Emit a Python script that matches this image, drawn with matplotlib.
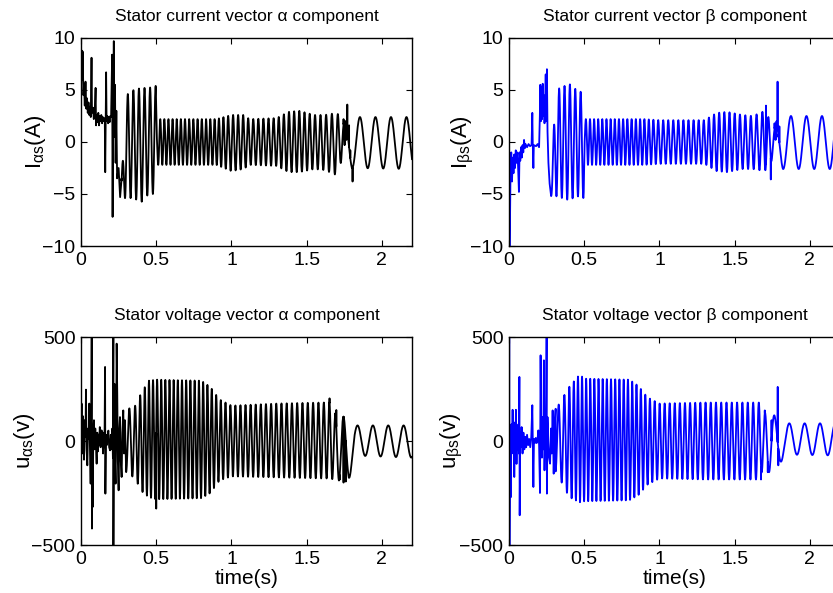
import numpy as np
import matplotlib
matplotlib.use('Agg')
import matplotlib.pyplot as plt

plt.rcParams['font.family'] = ['Liberation Sans', 'DejaVu Sans']
plt.rcParams['mathtext.fontset'] = 'custom'
plt.rcParams['mathtext.rm'] = 'Liberation Sans'
plt.rcParams['mathtext.it'] = 'Liberation Sans'
plt.rcParams['mathtext.bf'] = 'Liberation Sans:bold'
plt.rcParams['axes.unicode_minus'] = True

T_END = 2.2
DT = 0.0004

# ---------------- I_alpha (stator current alpha) ----------------
ia_tr_t = [0.0, 0.004, 0.008, 0.011, 0.016, 0.02, 0.025, 0.03, 0.035, 0.04, 0.045, 0.05, 0.055,
           0.06, 0.065, 0.07, 0.073, 0.08, 0.085, 0.092, 0.097, 0.1, 0.105, 0.11, 0.115, 0.12,
           0.125, 0.13, 0.135, 0.14, 0.145, 0.15, 0.158, 0.161, 0.164, 0.167, 0.17, 0.175, 0.18,
           0.185, 0.19, 0.195, 0.2, 0.207, 0.21, 0.213, 0.218, 0.222, 0.226, 0.23, 0.235, 0.24,
           0.25, 0.26, 0.27]
ia_tr_v = [4.5, 8.8, 6.0, 8.7, 4.5, 5.6, 3.5, 5.8, 3.2, 4.2, 2.8, 3.8, 2.6,
           3.4, 2.4, 8.1, 2.8, 3.3, 2.2, 3.0, 5.2, 1.6, 2.6, 1.9, 2.8, 1.6,
           2.5, 2.0, 2.6, 1.8, 2.4, 2.0, 2.3, -2.9, 2.2, 6.7, 2.0, 2.5, 1.8,
           2.4, 1.9, 2.5, 2.4, 8.4, -7.2, 1.5, 9.7, 0.5, 5.5, -2.0, 3.0, -3.5,
           -2.5, -5.3, -3.5]
ia_osc_start = 0.27
ia_env_t = [0.27, 0.30, 0.35, 0.40, 0.45, 0.497, 0.503, 0.90, 0.95, 1.0, 1.08, 1.12, 1.30, 1.38,
            1.45, 1.55, 1.62, 1.70, 1.75, 1.80, 2.2]
ia_env_hi = [-3.5, 4.5, 5.0, 5.2, 5.2, 5.4, 2.2, 2.2, 2.4, 2.6, 2.6, 2.2, 2.3, 2.9,
             3.0, 2.6, 2.6, 2.8, 2.0, 2.4, 2.4]
ia_env_lo = [-5.4, -5.4, -5.4, -5.8, -5.0, -5.0, -2.2, -2.2, -2.5, -2.8, -2.6, -2.2, -2.3, -2.9,
             -2.9, -2.6, -2.7, -3.2, -1.0, -2.5, -2.6]
ia_f_t = [0.27, 0.50, 0.52, 0.90, 1.0, 1.5, 1.70, 1.73, 1.76, 2.2]
ia_f_hz = [27, 27, 37, 35, 30, 29, 25, 25, 9.7, 9.7]
ia_peak = 1.854
ia_sp_t = [1.745, 1.752, 1.758, 1.764, 1.770, 1.776, 1.782, 1.790, 1.805]
ia_sp_v = [2.2, -0.3, 1.8, 0.2, 3.6, 0.3, 1.6, -0.8, -3.8]

# ---------------- I_beta (stator current beta) ----------------
ib_tr_t = [0.0, 0.002, 0.005, 0.01, 0.015, 0.02, 0.025, 0.03, 0.035, 0.04, 0.045, 0.05, 0.055,
           0.06, 0.066, 0.07, 0.075, 0.08, 0.085, 0.09, 0.095, 0.1, 0.105, 0.11, 0.12, 0.13,
           0.14, 0.15, 0.155, 0.158, 0.162, 0.165, 0.18, 0.19, 0.2, 0.205, 0.208, 0.212, 0.216,
           0.22, 0.224, 0.228, 0.232, 0.236, 0.24, 0.244, 0.248, 0.252, 0.256, 0.262, 0.27, 0.28]
ib_tr_v = [5.0, -10.0, -10.0, -3.0, -1.0, -3.8, -1.5, -3.0, -1.2, -2.5, -0.8, -2.0, -1.0,
           -2.2, -4.8, -1.0, -1.8, -0.5, -1.5, -0.3, -1.0, 0.2, -0.6, -0.2, -0.5, -0.2,
           -0.4, -0.3, 2.8, -0.3, -2.5, -0.3, -0.4, -0.2, -0.5, 2.5, 5.5, 2.0, 5.3,
           2.2, 5.6, 2.5, 4.5, 1.8, 3.5, 6.5, 2.0, 7.0, 1.0, -2.0, -4.0, -5.2]
ib_osc_start = 0.28
ib_env_t = [0.28, 0.31, 0.40, 0.45, 0.497, 0.503, 0.90, 1.0, 1.30, 1.38, 1.45, 1.55, 1.62,
            1.70, 1.76, 1.82, 2.2]
ib_env_hi = [-4.0, 5.0, 5.6, 5.0, 4.7, 2.2, 2.2, 2.1, 2.1, 2.8, 2.9, 2.6, 2.5, 3.0, 1.5, 2.5, 2.5]
ib_env_lo = [-5.2, -5.2, -5.6, -5.2, -5.4, -2.2, -2.2, -2.1, -2.1, -2.8, -2.9, -2.6, -2.6,
             -2.8, -1.5, -2.6, -2.6]
ib_f_t = [0.28, 0.50, 0.52, 0.90, 1.0, 1.5, 1.70, 1.74, 1.78, 2.2]
ib_f_hz = [28, 28, 37, 35, 30, 29, 25, 25, 9.7, 9.7]
ib_peak = 1.874
ib_sp_t = [1.708, 1.740, 1.765, 1.772, 1.778, 1.785, 1.790, 1.797]
ib_sp_v = [3.5, -3.6, 1.8, 0.2, 2.0, 5.8, 0.5, 1.5]

# ---------------- u_alpha (stator voltage alpha) ----------------
ua_tr_t = [0.0, 0.004, 0.008, 0.012, 0.016, 0.02, 0.025, 0.03, 0.033, 0.037, 0.042, 0.047, 0.051,
           0.055, 0.06, 0.064, 0.068, 0.071, 0.073, 0.076, 0.078, 0.082, 0.086, 0.09, 0.095, 0.1,
           0.104, 0.108, 0.112, 0.116, 0.12, 0.125, 0.13, 0.137, 0.142, 0.147, 0.152, 0.156, 0.16,
           0.162, 0.166, 0.171, 0.176, 0.182, 0.187, 0.193, 0.198, 0.203, 0.208, 0.212, 0.215,
           0.2155, 0.218, 0.222, 0.226, 0.23, 0.234, 0.237, 0.241, 0.245, 0.25, 0.255, 0.259,
           0.264, 0.27, 0.275, 0.281, 0.286, 0.292, 0.299]
ua_tr_v = [20, 180, -60, 120, 40, -90, 100, 20, 247, -40, -117, 60, 10,
           180, -60, -205, 80, 495, -421, 60, -317, 40, 100, -40, 60, -30,
           -109, 40, -50, 30, -20, 67, -30, 51, 0, -60, 40, -30, 356,
           -253, 30, -20, 20, 50, -30, -45, 30, -40, 60, -80, 500,
           -500, 100, 275, -100, -205, 80, 468, 227, -100, -237, 60, 115,
           -90, -173, 40, 147, -60, 100, -109]
ua_osc_start = 0.30
ua_env_t = [0.30, 0.36, 0.40, 0.45, 0.50, 0.80, 0.86, 0.92, 1.0, 1.30, 1.60, 1.665, 1.68, 1.78,
            1.82, 2.2]
ua_env_hi = [150, 170, 230, 290, 295, 290, 260, 200, 170, 180, 185, 185, 130, 110, 75, 75]
ua_env_lo = [-150, -180, -240, -270, -280, -275, -250, -190, -170, -175, -180, -180, -190, -190,
             -70, -80]
ua_f_t = [0.30, 0.40, 0.45, 0.85, 1.0, 1.6, 1.67, 1.72, 1.78, 2.2]
ua_f_hz = [22, 32, 37, 35, 30, 28, 26, 18, 9.8, 9.8]
ua_peak = 1.838
ua_sp_t = [0.50, 1.652, 1.690, 1.697, 1.720, 1.745, 1.760]
ua_sp_v = [-325, 205, 133, 149, -185, -200, -195]

# ---------------- u_beta (stator voltage beta) ----------------
ub_tr_t = [0.0, 0.0015, 0.003, 0.006, 0.009, 0.012, 0.016, 0.02, 0.024, 0.028, 0.032, 0.035,
           0.039, 0.043, 0.046, 0.05, 0.054, 0.058, 0.062, 0.066, 0.069, 0.071, 0.075, 0.079,
           0.084, 0.09, 0.096, 0.102, 0.108, 0.114, 0.12, 0.127, 0.134, 0.141, 0.148, 0.155,
           0.158, 0.162, 0.166, 0.172, 0.178, 0.184, 0.19, 0.195, 0.2, 0.206, 0.21, 0.214,
           0.219, 0.224, 0.228, 0.232, 0.236, 0.24, 0.245, 0.25, 0.252, 0.256, 0.261, 0.266,
           0.273, 0.279, 0.284, 0.29, 0.297, 0.303, 0.31]
ub_tr_v = [0, 500, -500, -100, 60, -270, 80, -40, 150, -60, 90, -173,
           40, -80, 150, -110, 60, -40, 80, -60, 308, -357, 40, -30,
           67, -60, 40, -40, 20, -30, 30, -20, 10, -30, 20, 172,
           -10, -221, 10, -10, 15, -10, 10, 51, -20, -250, 412, 40,
           -80, 115, -40, 388, -141, 80, -60, 500, -253, 115, 0, -80,
           -109, 60, -60, 147, -157, 60, 155]
ub_osc_start = 0.31
ub_env_t = [0.31, 0.35, 0.40, 0.47, 0.50, 0.80, 0.86, 0.92, 1.0, 1.30, 1.60, 1.665, 1.68, 1.78,
            1.83, 2.2]
ub_env_hi = [150, 200, 260, 320, 300, 295, 265, 210, 180, 185, 185, 185, 140, 120, 85, 85]
ub_env_lo = [-150, -200, -270, -295, -290, -285, -260, -210, -180, -185, -185, -185, -150, -150,
             -65, -70]
ub_f_t = [0.31, 0.40, 0.45, 0.85, 1.0, 1.6, 1.67, 1.72, 1.78, 2.2]
ub_f_hz = [22, 32, 37, 35, 30, 28, 26, 18, 9.8, 9.8]
ub_peak = 1.863
ub_sp_t = [1.675, 1.700, 1.720, 1.745, 1.786, 1.790]
ub_sp_v = [-185, 147, -150, 100, 260, -117]

x_ticks = [0, 0.5, 1, 1.5, 2]
x_tick_labels = ['0', '0.5', '1', '1.5', '2']
i_ticks = [-10, -5, 0, 5, 10]
u_ticks = [-500, 0, 500]

titles = ['Stator current vector \u03b1 component', 'Stator current vector \u03b2 component',
          'Stator voltage vector \u03b1 component', 'Stator voltage vector \u03b2 component']
ylabels = [r'I$_{\alpha\mathrm{s}}$(A)', r'I$_{\beta\mathrm{s}}$(A)',
           r'u$_{\alpha\mathrm{s}}$(v)', r'u$_{\beta\mathrm{s}}$(v)']


def build(tr_t, tr_v, osc_start, env_t, hi, lo, f_t, f_hz, peak, sp_t, sp_v):
    t = np.arange(osc_start, T_END + DT, DT)
    h = np.interp(t, env_t, hi)
    l = np.interp(t, env_t, lo)
    f = np.interp(t, f_t, f_hz)
    ph = 2 * np.pi * np.cumsum(f) * DT
    ph = ph - np.interp(peak, t, ph)
    y = (h + l) / 2 + (h - l) / 2 * np.cos(ph)
    T = np.concatenate([np.asarray(tr_t, float), t, np.asarray(sp_t, float)])
    Y = np.concatenate([np.asarray(tr_v, float), y, np.asarray(sp_v, float)])
    order = np.argsort(T, kind='stable')
    return T[order], Y[order]


series = [
    build(ia_tr_t, ia_tr_v, ia_osc_start, ia_env_t, ia_env_hi, ia_env_lo, ia_f_t, ia_f_hz,
          ia_peak, ia_sp_t, ia_sp_v),
    build(ib_tr_t, ib_tr_v, ib_osc_start, ib_env_t, ib_env_hi, ib_env_lo, ib_f_t, ib_f_hz,
          ib_peak, ib_sp_t, ib_sp_v),
    build(ua_tr_t, ua_tr_v, ua_osc_start, ua_env_t, ua_env_hi, ua_env_lo, ua_f_t, ua_f_hz,
          ua_peak, ua_sp_t, ua_sp_v),
    build(ub_tr_t, ub_tr_v, ub_osc_start, ub_env_t, ub_env_hi, ub_env_lo, ub_f_t, ub_f_hz,
          ub_peak, ub_sp_t, ub_sp_v),
]
colors = ['#000000', '#0000ff', '#000000', '#0000ff']

W, H = 833, 593
fig = plt.figure(figsize=(W / 100, H / 100), dpi=100)
ax_w = 331 / W
ax_h = 208 / H
lefts = [81 / W, 509 / W, 81 / W, 509 / W]
bottoms = [1 - 246 / H, 1 - 246 / H, 1 - 545 / H, 1 - 545 / H]

for k in range(4):
    ax = fig.add_axes([lefts[k], bottoms[k], ax_w, ax_h])
    T, Y = series[k]
    ax.plot(T, Y, color=colors[k], lw=1.3)
    ax.set_xlim(0, T_END)
    if k < 2:
        ax.set_ylim(-10, 10)
        ax.set_yticks(i_ticks)
    else:
        ax.set_ylim(-500, 500)
        ax.set_yticks(u_ticks)
        ax.set_xlabel('time(s)', fontsize=15, labelpad=1)
    ax.set_xticks(x_ticks)
    ax.set_xticklabels(x_tick_labels)
    ax.tick_params(direction='in', top=True, right=True, length=4, labelsize=14, pad=4)
    ax.set_title(titles[k], fontsize=12.5, pad=12)
    ax.set_ylabel(ylabels[k], fontsize=16, labelpad=-4)
    for s in ax.spines.values():
        s.set_linewidth(1.0)

fig.savefig('out.png', dpi=100)
